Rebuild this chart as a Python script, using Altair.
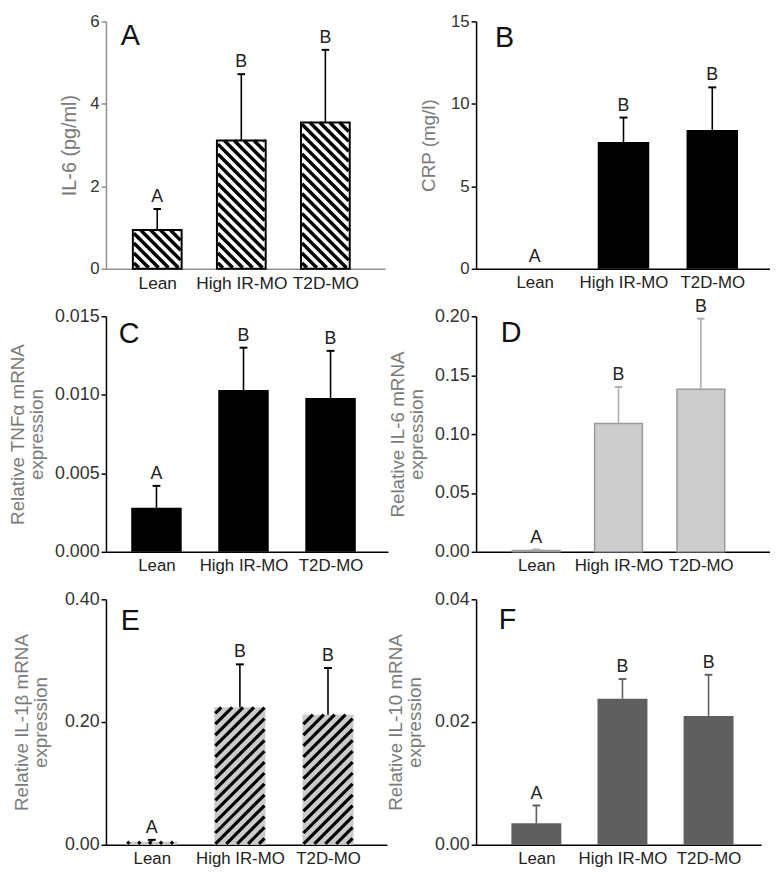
import json
import altair as alt
import pandas as pd

# ---------------- data ----------------
groups = ["Lean", "High IR-MO", "T2D-MO"]
sig_letters = ["A", "B", "B"]

il6_serum_mean = [0.94, 3.11, 3.55]
il6_serum_sem = [0.51, 1.61, 1.76]

crp_mean = [0.0, 7.68, 8.42]
crp_sem = [0.0, 1.49, 2.58]

tnfa_mean = [0.0028, 0.0103, 0.0098]
tnfa_sem = [0.0014, 0.0027, 0.0030]

il6_mrna_mean = [0.0012, 0.109, 0.138]
il6_mrna_sem = [0.0008, 0.031, 0.060]

il1b_mean = [0.005, 0.224, 0.212]
il1b_sem = [0.003, 0.070, 0.076]

il10_mean = [0.0035, 0.0238, 0.0210]
il10_sem = [0.0029, 0.0032, 0.0067]

# ---------------- styling / layout ----------------
FONT = "Liberation Sans"
HALF = 0.29          # half bar width in x-index units
CAP = 0.045          # half cap width
ROW_H = [250, 238, 248]

panels = [
    dict(tag="A", mean=il6_serum_mean, sem=il6_serum_sem, title="IL-6 (pg/ml)",
         ymax=6, ticks=[0, 2, 4, 6], fmt="d", fill="white", stroke="black", sw=2,
         err="black", stripes="back", axis_color="#8f8f8f", xdom=[-0.61, 2.71],
         W=282, H=ROW_H[0], lab=(15, 24), tpad=10, tfs=20, lfs=17, xfs=17.5),
    dict(tag="B", mean=crp_mean, sem=crp_sem, title="CRP (mg/l)",
         ymax=15, ticks=[0, 5, 10, 15], fmt="d", fill="black", stroke=None, sw=0,
         err="black", stripes=None, axis_color="black", xdom=[-0.66, 2.65],
         W=297, H=ROW_H[0], lab=(19, 26), tpad=12, tfs=19, lfs=17, xfs=17),
    dict(tag="C", mean=tnfa_mean, sem=tnfa_sem, title=["Relative TNFα mRNA", "expression"],
         ymax=0.015, ticks=[0, 0.005, 0.010, 0.015], fmt=".3f", fill="black", stroke=None, sw=0,
         err="black", stripes=None, axis_color="black", xdom=[-0.58, 2.66],
         W=285, H=ROW_H[1], lab=(13, 27), tpad=8, tfs=19, lfs=18, xfs=17),
    dict(tag="D", mean=il6_mrna_mean, sem=il6_mrna_sem, title=["Relative IL-6 mRNA", "expression"],
         ymax=0.20, ticks=[0, 0.05, 0.10, 0.15, 0.20], fmt=".2f", fill="#cdcdcd", stroke="#9a9a9a", sw=1.5,
         err="#b0b0b0", stripes=None, axis_color="black", xdom=[-0.73, 2.84],
         W=297, H=ROW_H[1], lab=(25, 26), tpad=8, tfs=19, lfs=18, xfs=17),
    dict(tag="E", mean=il1b_mean, sem=il1b_sem, title=["Relative IL-1β mRNA", "expression"],
         ymax=0.40, ticks=[0, 0.20, 0.40], fmt=".2f", fill="#cbcbcb", stroke=None, sw=0,
         err="black", stripes="fwd", axis_color="black", xdom=[-0.52, 2.67],
         W=284, H=ROW_H[2], lab=(15, 31), tpad=14, tfs=19, lfs=18, xfs=17),
    dict(tag="F", mean=il10_mean, sem=il10_sem, title=["Relative IL-10 mRNA", "expression"],
         ymax=0.04, ticks=[0, 0.02, 0.04], fmt=".2f", fill="#5f5f5f", stroke=None, sw=0,
         err="#5f5f5f", stripes=None, axis_color="black", xdom=[-0.70, 2.61],
         W=288, H=ROW_H[2], lab=(23, 30), tpad=10, tfs=19, lfs=18, xfs=17),
]


def stripe_segments(means, xdom, ymax, W, H, direction, spacing=10.0, inset=1.0):
    """Diagonal hatch segments (45 deg on screen) clipped to each bar, in data units."""
    sx = W / (xdom[1] - xdom[0])
    sy = H / ymax
    rows = []
    for i, m in enumerate(means):
        L = (i - HALF - xdom[0]) * sx + inset
        R = (i + HALF - xdom[0]) * sx - inset
        T = m * sy - inset
        bw = R - L
        if T <= 0 or bw <= 0:
            continue
        if direction == "back":   # "\" : v = c - u
            c = spacing / 2
            while c < T + bw:
                lo, hi = max(0.0, c - T), min(bw, c)
                if hi > lo:
                    rows.append(dict(x=xdom[0] + (L + lo) / sx, y=(c - lo + inset) / sy,
                                     x2=xdom[0] + (L + hi) / sx, y2=(c - hi + inset) / sy))
                c += spacing
        else:                     # "/" : v = c + u
            c = -bw + spacing / 2
            while c < T:
                lo, hi = max(0.0, -c), min(bw, T - c)
                if hi > lo:
                    rows.append(dict(x=xdom[0] + (L + lo) / sx, y=(c + lo + inset) / sy,
                                     x2=xdom[0] + (L + hi) / sx, y2=(c + hi + inset) / sy))
                c += spacing
    return pd.DataFrame(rows, columns=["x", "y", "x2", "y2"])


label_expr = json.dumps(groups) + "[round(datum.value)]"


def make_panel(p):
    df = pd.DataFrame({"idx": [0, 1, 2], "group": groups, "mean": p["mean"],
                       "sem": p["sem"], "letter": sig_letters})
    base = alt.Chart(df).transform_calculate(
        lo=f"datum.idx - {HALF}", hi=f"datum.idx + {HALF}",
        top="datum.mean + datum.sem", zero="0",
        clo=f"datum.idx - {CAP}", chi=f"datum.idx + {CAP}")

    xs = alt.Scale(domain=p["xdom"], nice=False, zero=False)
    ys = alt.Scale(domain=[0, p["ymax"]], nice=False)
    ac = p["axis_color"]
    xax = alt.Axis(values=[0, 1, 2], labelExpr=label_expr, ticks=False, grid=False,
                   title=None, domainColor=ac, domainWidth=1.5, labelFontSize=p["xfs"],
                   labelColor="#222", labelPadding=6, labelFont=FONT, labelOverlap=False)
    yax = alt.Axis(values=p["ticks"], format=p["fmt"], grid=False, title=p["title"],
                   domainColor=ac, domainWidth=1.5, tickColor=ac, tickWidth=1.5, tickSize=5,
                   labelFontSize=p["lfs"], labelColor="#333", labelPadding=2, labelFont=FONT,
                   titleFont=FONT, titleFontSize=p["tfs"], titleFontWeight="normal",
                   titleColor="#7a7a7a", titlePadding=p["tpad"], titleLineHeight=19)

    def X(f):
        return alt.X(f, scale=xs, axis=xax)

    def Y(f):
        return alt.Y(f, scale=ys, axis=yax)

    bar_kw = dict(fill=p["fill"])
    if p["stroke"] and not p["stripes"]:
        bar_kw.update(stroke=p["stroke"], strokeWidth=p["sw"])
    bars = base.mark_rect(**bar_kw).encode(x=X("lo:Q"), x2="hi:Q", y=Y("mean:Q"), y2="zero:Q")
    layers = [bars]

    if p["stripes"]:
        sdf = stripe_segments(p["mean"], p["xdom"], p["ymax"], p["W"], p["H"], p["stripes"],
                              spacing=10.0 if p["stripes"] == "back" else 11.0)
        hatch = alt.Chart(sdf).mark_rule(
            stroke="black", strokeWidth=3.5 if p["stripes"] == "back" else 3.2, strokeCap="butt"
        ).encode(x=X("x:Q"), x2="x2:Q", y=Y("y:Q"), y2="y2:Q")
        layers.append(hatch)
        if p["stroke"]:
            outline = base.mark_rect(fillOpacity=0, stroke=p["stroke"], strokeWidth=p["sw"]).encode(
                x=X("lo:Q"), x2="hi:Q", y=Y("mean:Q"), y2="zero:Q")
            layers.append(outline)

    eb = base.transform_filter("datum.sem > 0")
    stem = eb.mark_rule(color=p["err"], strokeWidth=1.6).encode(
        x=X("idx:Q"), y=Y("mean:Q"), y2="top:Q")
    cap = eb.mark_rule(color=p["err"], strokeWidth=2).encode(
        x=X("clo:Q"), x2="chi:Q", y=Y("top:Q"))
    letters = base.mark_text(font=FONT, fontSize=18, color="#222", baseline="alphabetic",
                             dy=-7).encode(x=X("idx:Q"), y=Y("top:Q"), text="letter:N")
    tag = alt.Chart(pd.DataFrame({"tag": [p["tag"]]})).mark_text(
        font=FONT, fontSize=29, color="#111", align="left", baseline="alphabetic").encode(
        x=alt.value(p["lab"][0]), y=alt.value(p["lab"][1]), text="tag:N")
    layers += [stem, cap, letters, tag]
    return alt.layer(*layers).properties(width=p["W"], height=p["H"])


chart = alt.concat(
    *[make_panel(p) for p in panels], columns=2,
    spacing={"row": 48, "column": 89}, bounds="flush",
).properties(
    padding={"left": 0, "top": 0, "right": 0, "bottom": 0}
).configure_view(stroke=None)

chart.save("out.html", embed_options={"renderer": "svg", "actions": False})
